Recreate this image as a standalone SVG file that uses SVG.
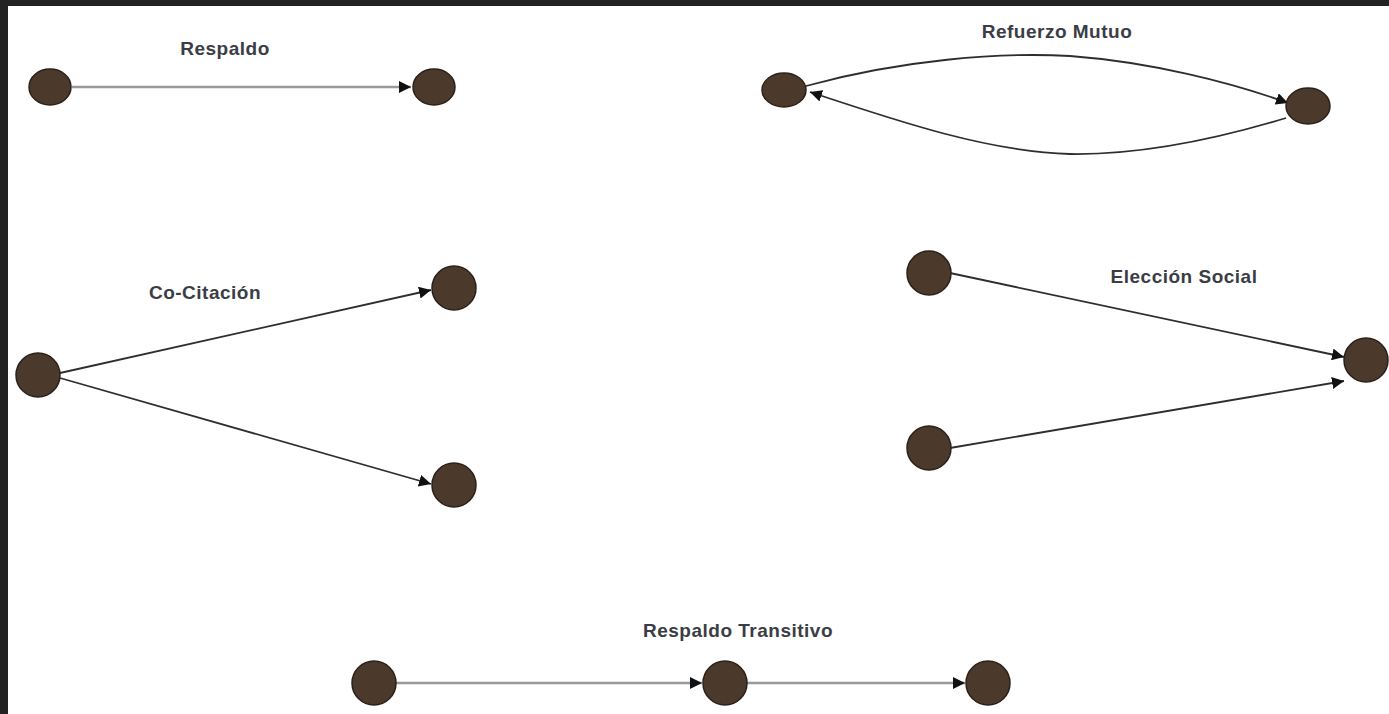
<svg xmlns="http://www.w3.org/2000/svg" width="1389" height="714" viewBox="0 0 1389 714">
<style>
.bg{fill:#ffffff}
.frame{fill:#222222}
.node{fill:#4b3a2b;stroke:#2b211a;stroke-width:1.5}
.edge{fill:none;stroke:#2e2e2e;stroke-width:1.8}
.light{stroke:#999999;stroke-width:2.6}
.label{font-family:"Liberation Sans",Arial,sans-serif;font-weight:bold;font-size:19px;letter-spacing:0.5px;fill:#3a3d45;text-anchor:middle}
</style>
<defs>
<marker id="arr" viewBox="0 0 10 10" refX="10" refY="5" markerWidth="12" markerHeight="12" markerUnits="userSpaceOnUse" orient="auto">
<path d="M0,0 L10,5 L0,10 z" fill="#111111"/>
</marker>
</defs>
<rect class="bg" x="0" y="0" width="1389" height="714"/>
<rect class="frame" x="0" y="0" width="1389" height="6"/>
<rect class="frame" x="0" y="0" width="8" height="714"/>
<g id="labels">
<text class="label" x="225" y="55">Respaldo</text>
<text class="label" x="1057" y="38">Refuerzo Mutuo</text>
<text class="label" x="205" y="299">Co-Citación</text>
<text class="label" x="1184" y="283">Elección Social</text>
<text class="label" x="738" y="637">Respaldo Transitivo</text>
</g>
<g id="connectors">
<line class="edge light" x1="72" y1="87" x2="411" y2="87" marker-end="url(#arr)"/>
<path class="edge" d="M806,86 C900,60 1000,52 1070,56 C1150,62 1230,82 1288,103" marker-end="url(#arr)"/>
<path class="edge" d="M1286,118 C1220,138 1140,155 1070,154 C990,152 900,122 810,92" marker-end="url(#arr)"/>
<line class="edge" x1="60" y1="373" x2="431" y2="290" marker-end="url(#arr)"/>
<line class="edge" x1="60" y1="378" x2="431" y2="484" marker-end="url(#arr)"/>
<line class="edge" x1="950" y1="273" x2="1344" y2="357" marker-end="url(#arr)"/>
<line class="edge" x1="950" y1="448" x2="1344" y2="381" marker-end="url(#arr)"/>
<line class="edge light" x1="396" y1="683" x2="702" y2="683" marker-end="url(#arr)"/>
<line class="edge light" x1="747" y1="683" x2="965" y2="683" marker-end="url(#arr)"/>
</g>
<g id="n1"><ellipse class="node" cx="50" cy="87" rx="21" ry="18"/></g>
<g id="n2"><ellipse class="node" cx="434" cy="87" rx="21" ry="18"/></g>
<g id="n3"><ellipse class="node" cx="784" cy="90" rx="22" ry="17"/></g>
<g id="n4"><ellipse class="node" cx="1308" cy="106" rx="22" ry="18"/></g>
<g id="n5"><ellipse class="node" cx="38" cy="375" rx="22" ry="22"/></g>
<g id="n6"><ellipse class="node" cx="454" cy="288" rx="22" ry="22"/></g>
<g id="n7"><ellipse class="node" cx="454" cy="485" rx="22" ry="22"/></g>
<g id="n8"><ellipse class="node" cx="929" cy="273" rx="22" ry="22"/></g>
<g id="n9"><ellipse class="node" cx="929" cy="448" rx="22" ry="22"/></g>
<g id="n10"><ellipse class="node" cx="1366" cy="360" rx="22" ry="22"/></g>
<g id="n11"><ellipse class="node" cx="374" cy="683" rx="22" ry="22"/></g>
<g id="n12"><ellipse class="node" cx="725" cy="683" rx="22" ry="22"/></g>
<g id="n13"><ellipse class="node" cx="988" cy="683" rx="22" ry="22"/></g>
</svg>
